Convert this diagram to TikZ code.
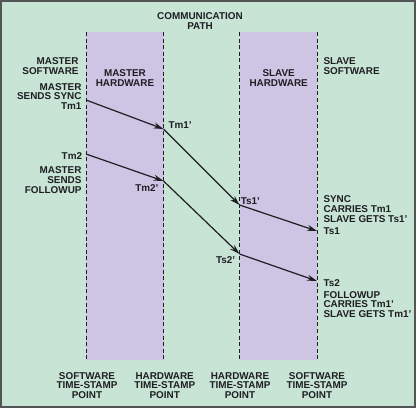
\documentclass[tikz,border=0pt]{standalone}
\usepackage{fontspec}
\setmainfont{Liberation Sans}
\usetikzlibrary{arrows.meta}
\definecolor{bggreen}{RGB}{200,228,212}
\definecolor{bandpurple}{RGB}{206,196,228}
\definecolor{framegrey}{RGB}{85,85,85}
\definecolor{ink}{RGB}{30,30,35}
\begin{document}
\begin{tikzpicture}[x=1pt,y=-1pt,
  lbl/.style={font=\bfseries\fontsize{9.9}{9.6}\selectfont, inner sep=0pt, text=ink},
  lblr/.style={lbl, align=right, anchor=north east},
  lbll/.style={lbl, align=left, anchor=north west},
  lblc/.style={lbl, align=center, anchor=north},
  stamp/.style={ink, line width=1pt, dash pattern=on 4pt off 2.6pt},
  msg/.style={ink, line width=1.2pt, -{Stealth[length=10pt,width=6pt]}},
  band/.style={fill=bandpurple, draw=none}]
\useasboundingbox (0,0) rectangle (416,408);
\fill[bggreen] (0,0) rectangle (416,408);
\draw[framegrey, line width=1.6pt] (0.8,0.8) rectangle (415.2,407.2);
% bands
\path[band] (86,32) rectangle (163.5,360);
\path[band] (239.5,32) rectangle (317,360);
% dashed time-stamp lines
\coordinate (t1) at (86,32); \coordinate (b1) at (86,360);
\coordinate (t2) at (163.5,32); \coordinate (b2) at (163.5,360);
\coordinate (t3) at (239.5,32); \coordinate (b3) at (239.5,360);
\coordinate (t4) at (317,32); \coordinate (b4) at (317,360);
\draw[stamp] (t1) -- (b1);
\draw[stamp] (t2) -- (b2);
\draw[stamp] (t3) -- (b3);
\draw[stamp] (t4) -- (b4);
% message points
\coordinate (m1) at (86,100);
\coordinate (h1) at (163.5,129);
\coordinate (s1) at (239.5,205);
\coordinate (e1) at (317,231);
\coordinate (m2) at (86,154);
\coordinate (h2) at (163.5,181);
\coordinate (s2) at (239.5,254);
\coordinate (e2) at (317,281);
\draw[msg] (m1) -- (h1);
\draw[msg] (h1) -- (s1);
\draw[msg] (s1) -- (e1);
\draw[msg] (m2) -- (h2);
\draw[msg] (h2) -- (s2);
\draw[msg] (s2) -- (e2);
% labels
\node[lblc] (comm) at (200,12.3) {COMMUNICATION\\PATH};
\node[lblr] (msw) at (78.7,57.3) {MASTER\\SOFTWARE};
\node[lblc] (mhw) at (125,69.7) {MASTER\\HARDWARE};
\node[lblc] (shw) at (278.7,69.7) {SLAVE\\HARDWARE};
\node[lbll] (ssw) at (323.3,57.3) {SLAVE\\SOFTWARE};
\node[lblr] (msync) at (81.7,83) {MASTER\\SENDS SYNC\\Tm1};
\node[lbll] (tm1p) at (168.3,121.3) {Tm1'};
\node[lblr] (tm2) at (82.3,152.3) {Tm2};
\node[lblr] (mfol) at (81.7,166.7) {MASTER\\SENDS\\FOLLOWUP};
\node[lblr] (tm2p) at (158.7,184.3) {Tm2'};
\node[lbll] (ts1p) at (240.7,197) {Ts1'};
\node[lbll] (sync) at (323.3,195.7) {SYNC\\CARRIES Tm1\\SLAVE GETS Ts1'};
\node[lbll] (ts1) at (323.3,227.7) {Ts1};
\node[lblr] (ts2p) at (235.3,256.3) {Ts2'};
\node[lbll] (ts2) at (323.3,279) {Ts2};
\node[lbll] (fol) at (323.3,291) {FOLLOWUP\\CARRIES Tm1'\\SLAVE GETS Tm1'};
\node[lblc] (p1) at (87,372) {SOFTWARE\\TIME-STAMP\\POINT};
\node[lblc] (p2) at (164.7,372) {HARDWARE\\TIME-STAMP\\POINT};
\node[lblc] (p3) at (240,372) {HARDWARE\\TIME-STAMP\\POINT};
\node[lblc] (p4) at (317,372) {SOFTWARE\\TIME-STAMP\\POINT};
\end{tikzpicture}
\end{document}
